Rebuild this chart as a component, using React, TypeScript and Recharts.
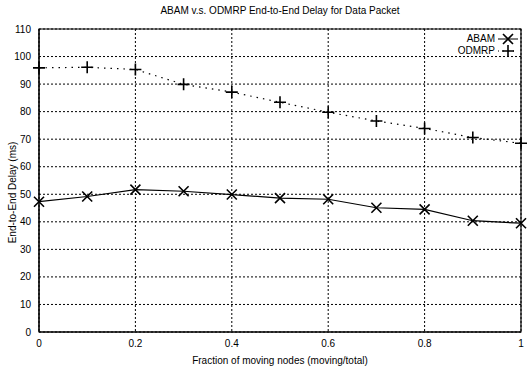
import React from 'react'
import { LineChart, Line, XAxis, YAxis, CartesianGrid, ReferenceArea } from 'recharts'

// fraction of moving nodes (moving/total)
const fractions = [0, 0.1, 0.2, 0.3, 0.4, 0.5, 0.6, 0.7, 0.8, 0.9, 1]
// end-to-end delay in ms
const abamDelay = [47.3, 49.2, 51.7, 51.1, 49.9, 48.6, 48.2, 45.1, 44.5, 40.4, 39.5]
const odmrpDelay = [95.9, 96.1, 95.3, 89.9, 87.1, 83.4, 79.8, 76.6, 73.9, 70.6, 68.5]

const xTicks = [0, 0.2, 0.4, 0.6, 0.8, 1]
const yTicks = [0, 10, 20, 30, 40, 50, 60, 70, 80, 90, 100, 110]

const data = fractions.map((f, i) => ({
  fraction: f,
  abam: abamDelay[i],
  odmrp: odmrpDelay[i],
}))

const FONT = '"Liberation Sans", Arial, sans-serif'

const CrossDot = (props: any) => {
  const { cx, cy } = props
  if (cx == null || cy == null) return null
  const r = 5
  return (
    <path
      key={`x-${cx}`}
      d={`M${cx - r},${cy - r}L${cx + r},${cy + r}M${cx - r},${cy + r}L${cx + r},${cy - r}`}
      stroke="#000"
      strokeWidth={1.6}
      fill="none"
    />
  )
}

const PlusDot = (props: any) => {
  const { cx, cy } = props
  if (cx == null || cy == null) return null
  const r = 6
  return (
    <path
      key={`p-${cx}`}
      d={`M${cx - r},${cy}L${cx + r},${cy}M${cx},${cy - r}L${cx},${cy + r}`}
      stroke="#000"
      strokeWidth={1.6}
      fill="none"
    />
  )
}

// legend drawn in the top-right corner inside the plot, like the original
const LegendBox = () => (
  <svg
    width={90}
    height={26}
    style={{ position: 'absolute', left: 428, top: 33, fontFamily: FONT, fontSize: 10 }}
  >
    <text x={67} y={9} textAnchor="end">ABAM</text>
    <line x1={70} y1={6} x2={90} y2={6} stroke="#000" strokeWidth={1} />
    <CrossDot cx={80} cy={6} />
    <text x={67} y={21} textAnchor="end">ODMRP</text>
    <line x1={70} y1={18} x2={90} y2={18} stroke="#000" strokeWidth={1} strokeDasharray="1 4" />
    <PlusDot cx={80} cy={18} />
  </svg>
)

export default function App() {
  return (
    <div style={{ position: 'absolute', left: 0, top: 0, width: 531, height: 369, background: '#fff', fontFamily: FONT }}>
      <div
        style={{
          position: 'absolute',
          left: 39,
          width: 482,
          top: 5,
          textAlign: 'center',
          fontSize: 10,
          color: '#000',
        }}
      >
        ABAM v.s. ODMRP End-to-End Delay for Data Packet
      </div>
      <LineChart
        width={531}
        height={369}
        data={data}
        margin={{ top: 29, right: 10, left: 0, bottom: 0 }}
      >
        <CartesianGrid stroke="#000" strokeDasharray="2 2" strokeWidth={1} />
        <XAxis
          dataKey="fraction"
          type="number"
          domain={[0, 1]}
          ticks={xTicks}
          tickFormatter={(v) => String(v)}
          height={37}
          tickLine={false}
          tickSize={6}
          tickMargin={2}
          stroke="#000"
          tick={{ fill: '#000', fontSize: 10, fontFamily: FONT }}
          label={{
            value: 'Fraction of moving nodes (moving/total)',
            position: 'insideBottom',
            offset: 5,
            style: { fill: '#000', fontSize: 10, fontFamily: FONT },
          }}
        />
        <YAxis
          type="number"
          domain={[0, 110]}
          ticks={yTicks}
          width={39}
          tickLine={false}
          tickSize={6}
          tickMargin={2}
          stroke="#000"
          tick={{ fill: '#000', fontSize: 10, fontFamily: FONT }}
          label={{
            value: 'End-to-End Delay (ms)',
            angle: -90,
            position: 'insideLeft',
            offset: 12,
            dy: 12,
            style: { textAnchor: 'middle', fill: '#000', fontSize: 10, fontFamily: FONT },
          }}
        />
        <ReferenceArea
          x1={0}
          x2={1}
          y1={0}
          y2={110}
          fill="#fff"
          fillOpacity={0}
          stroke="#000"
          strokeOpacity={1}
          strokeWidth={1.2}
          ifOverflow="extendDomain"
        />
        <Line
          dataKey="abam"
          name="ABAM"
          stroke="#000"
          strokeWidth={1.2}
          dot={<CrossDot />}
          activeDot={false}
          isAnimationActive={false}
        />
        <Line
          dataKey="odmrp"
          name="ODMRP"
          stroke="#000"
          strokeWidth={1.2}
          strokeDasharray="1.5 5"
          dot={<PlusDot />}
          activeDot={false}
          isAnimationActive={false}
        />
      </LineChart>
      <LegendBox />
    </div>
  )
}
